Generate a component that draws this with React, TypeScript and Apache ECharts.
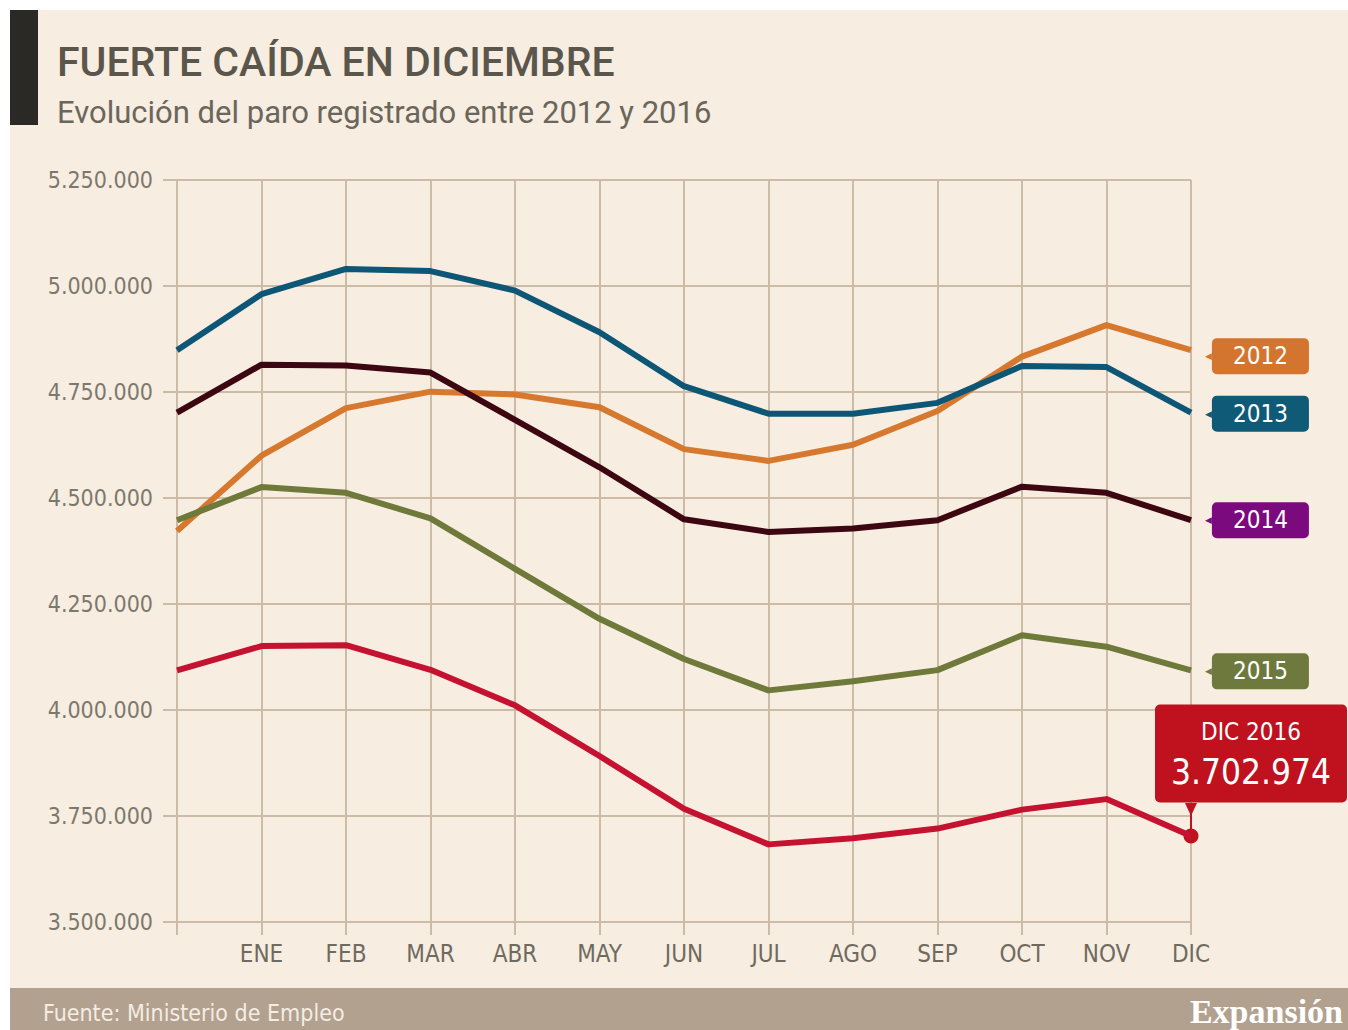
import React, { useEffect, useRef } from "react";
import * as echarts from "echarts";

const months = ["", "ENE", "FEB", "MAR", "ABR", "MAY", "JUN", "JUL", "AGO", "SEP", "OCT", "NOV", "DIC"];
const years = ["2012", "2013", "2014", "2015", "2016"];
const paro2012 = [4422359, 4599829, 4712098, 4750867, 4744235, 4714122, 4615269, 4587455, 4625634, 4705279, 4833521, 4907817, 4848723];
const paro2013 = [4848723, 4980778, 5040222, 5035243, 4989193, 4890928, 4763680, 4698814, 4698783, 4724355, 4811383, 4808908, 4701338];
const paro2014 = [4701338, 4814435, 4812486, 4795866, 4684301, 4572385, 4449701, 4419860, 4427930, 4447650, 4526804, 4512153, 4447711];
const paro2015 = [4447711, 4525691, 4512116, 4451939, 4333016, 4215031, 4120304, 4046276, 4067955, 4094042, 4176369, 4149298, 4093508];
const paro2016 = [4093508, 4150710, 4152986, 4094770, 4011026, 3891403, 3767054, 3683061, 3697496, 3720297, 3764982, 3789823, 3702974];
const seriesData = [paro2012, paro2013, paro2014, paro2015, paro2016];

const lineColors = ["#d7782f", "#0d5676", "#3d0712", "#6e793a", "#c41230"];
const tagColors = ["#d4752f", "#0f5a77", "#7b0a7e", "#6e7a3d", "#c0111f"];
const tagShift = [6, 1, 0, 1, 0];

const NARROW = "'Liberation Sans Narrow', 'DejaVu Sans Condensed', 'Roboto', sans-serif";
const SANS = "'Roboto', 'Open Sans', sans-serif";
const GRID = "#cbbba7";

const fmt = (v: number) => String(Math.round(v)).replace(/\B(?=(\d{3})+(?!\d))/g, ".");

export default function App() {
  const ref = useRef<HTMLDivElement>(null);
  useEffect(() => {
    if (!ref.current) return;
    const chart = echarts.init(ref.current, undefined, { renderer: "svg" });
    const last = paro2016[paro2016.length - 1];
    const series: any[] = years.map((y, i) => {
      const s: any = {
        name: y,
        type: "line",
        data: seriesData[i],
        symbol: "none",
        silent: true,
        lineStyle: { width: 6, color: lineColors[i], join: "round" },
        z: 3 + i,
      };
      if (i < 4) {
        s.endLabel = {
          show: true,
          distance: 14,
          offset: [0, tagShift[i]],
          formatter: () => `{n|◀}{t|${y}}`,
          rich: {
            n: { color: tagColors[i], fontSize: 9, fontFamily: "DejaVu Sans" },
            t: {
              backgroundColor: tagColors[i],
              color: "#ffffff",
              fontSize: 24,
              fontFamily: NARROW,
              width: 97,
              height: 36,
              lineHeight: 36,
              align: "center",
              borderRadius: 5,
            },
          },
        };
      } else {
        s.markPoint = {
          silent: true,
          data: [
            {
              coord: [months[12], last],
              symbol: "path://M0,0 L12,0 L7,10 L7,24 L5,24 L5,10 Z",
              symbolSize: [12, 26],
              symbolOffset: [0, -20],
              itemStyle: { color: tagColors[4] },
              label: { show: false },
            },
            {
              coord: [months[12], last],
              symbol: "circle",
              symbolSize: 15,
              itemStyle: { color: tagColors[4] },
              label: {
                show: true,
                position: "top",
                distance: 26,
                offset: [60, 0],
                backgroundColor: tagColors[4],
                borderRadius: 5,
                padding: [10, 20, 8, 20],
                formatter: () => `{a|DIC 2016}\n{b|${fmt(last)}}`,
                rich: {
                  a: { color: "#ffffff", fontSize: 24, fontFamily: NARROW, lineHeight: 36, width: 152, align: "center" },
                  b: { color: "#ffffff", fontSize: 35, fontFamily: NARROW, lineHeight: 44, width: 152, align: "center" },
                },
              },
            },
          ],
        };
      }
      return s;
    });

    chart.setOption({
      animation: false,
      backgroundColor: "#f7ede1",
      grid: { left: 177, right: 157, top: 180, bottom: 108, containLabel: false },
      xAxis: {
        type: "category",
        data: months,
        boundaryGap: false,
        axisLine: { show: false },
        axisTick: { show: true, length: 13, interval: 0, lineStyle: { color: GRID, width: 2 } },
        splitLine: { show: true, interval: 0, lineStyle: { color: GRID, width: 2 } },
        axisLabel: { interval: 0, margin: 20, color: "#6f6a60", fontSize: 24, fontFamily: NARROW },
      },
      yAxis: {
        type: "value",
        min: 3500000,
        max: 5250000,
        interval: 250000,
        axisLine: { show: false },
        axisTick: { show: true, length: 14, lineStyle: { color: GRID, width: 2 } },
        splitLine: { show: true, lineStyle: { color: GRID, width: 2 } },
        axisLabel: { margin: 24, color: "#7c786e", fontSize: 23, fontFamily: NARROW, formatter: (v: number) => fmt(v) },
      },
      graphic: [
        { type: "rect", shape: { x: 0, y: 0, width: 1348, height: 10 }, style: { fill: "#ffffff" } },
        { type: "rect", shape: { x: 0, y: 0, width: 10, height: 1030 }, style: { fill: "#ffffff" } },
        { type: "rect", shape: { x: 10, y: 10, width: 28, height: 115 }, style: { fill: "#2b2926" } },
        {
          type: "text",
          x: 57,
          y: 62,
          style: { text: "FUERTE CAÍDA EN DICIEMBRE", fontSize: 41, fontWeight: 500, fontFamily: SANS, fill: "#5b564c", align: "left", verticalAlign: "middle" },
        },
        {
          type: "text",
          x: 57,
          y: 112,
          style: { text: "Evolución del paro registrado entre 2012 y 2016", fontSize: 31, fontFamily: SANS, fill: "#6b665b", align: "left", verticalAlign: "middle" },
        },
        { type: "rect", shape: { x: 10, y: 988, width: 1338, height: 42 }, style: { fill: "#b2a18e" } },
        {
          type: "text",
          x: 43,
          y: 1013,
          style: { text: "Fuente: Ministerio de Empleo", fontSize: 23, fontFamily: NARROW, fill: "#f4ede4", align: "left", verticalAlign: "middle" },
        },
        {
          type: "text",
          x: 1343,
          y: 1011,
          style: { text: "Expansión", fontSize: 34, fontWeight: "bold", fontFamily: "'Liberation Serif', 'DejaVu Serif', serif", fill: "#ffffff", align: "right", verticalAlign: "middle" },
        },
      ],
      series,
    });
    return () => chart.dispose();
  }, []);
  return <div ref={ref} style={{ position: "absolute", left: 0, top: 0, width: 1348, height: 1030 }} />;
}
